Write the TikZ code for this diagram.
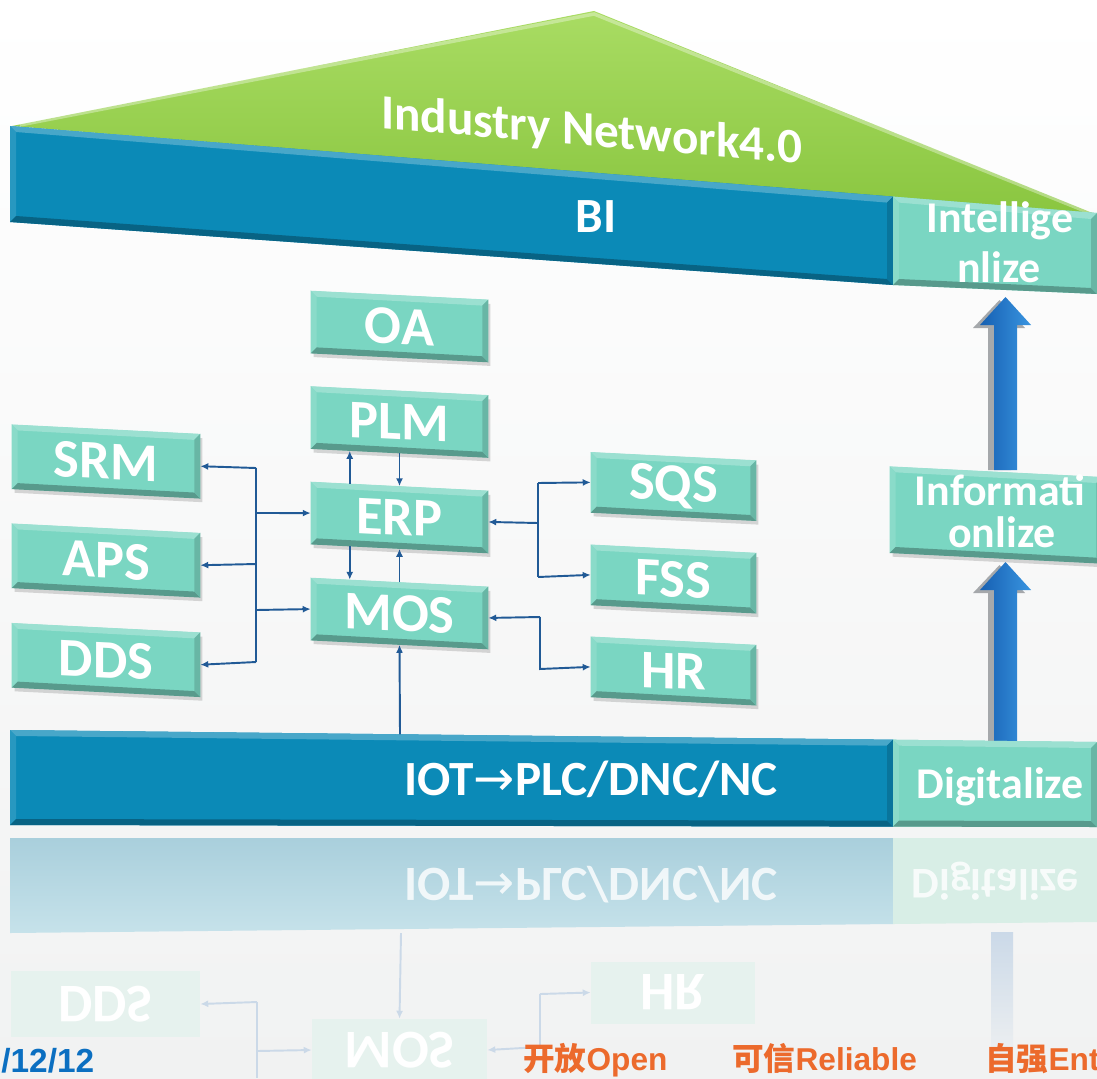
\documentclass[tikz,border=0pt]{standalone}
\usepackage{fontspec}
\setmainfont{Carlito}
\newfontfamily\lib{Liberation Sans}
\newfontfamily\cjk{Noto Sans CJK SC}
\newfontfamily\dejavu{DejaVu Sans}
\usetikzlibrary{arrows.meta,calc,shadows}
\definecolor{bgc}{HTML}{F1F2F2}
\definecolor{roofl}{HTML}{A9DC63}
\definecolor{roofd}{HTML}{8AC640}
\definecolor{barc}{HTML}{0B8AB7}
\definecolor{boxc}{HTML}{7AD6C2}
\definecolor{connc}{HTML}{215A96}
\definecolor{arrd}{HTML}{1660B2}
\definecolor{arrl}{HTML}{3994E0}
\definecolor{arrgray}{HTML}{A5A8AB}
\definecolor{reflA}{HTML}{A9CFDC}
\definecolor{reflB}{HTML}{C6E2EA}
\definecolor{reflG}{HTML}{D8EEE6}
\definecolor{rboxc}{HTML}{E6F2EE}
\definecolor{rline}{HTML}{CBD9E8}
\definecolor{dateblue}{HTML}{0B6FC1}
\definecolor{orangeT}{HTML}{EC6A2C}
% bevel: #1 colour, #2 size, #3 top-left, #4 top-right, #5 bottom-right, #6 bottom-left
\newcommand\bev[6]{%
 \fill[#1!75!white] (#3)--(#4)--($(#4)+(-#2,#2)$)--($(#3)+(#2,#2)$)--cycle;
 \fill[#1!88!white] (#3)--($(#3)+(#2,#2)$)--($(#6)+(#2,-#2)$)--(#6)--cycle;
 \fill[#1!72!black] (#6)--($(#6)+(#2,-#2)$)--($(#5)+(-#2,-#2)$)--(#5)--cycle;
 \fill[#1!85!black] (#4)--(#5)--($(#5)+(-#2,-#2)$)--($(#4)+(-#2,#2)$)--cycle;
}
\newcommand\nbev[2]{\bev{#2}{6}{#1.north west}{#1.north east}{#1.south east}{#1.south west}}
\newcommand\blockarrow[3]{%
 \fill[arrgray] (999.5,#1+3) -- (973,#2+3) -- (988,#2+3) -- (988,#3) -- (1011,#3) -- (1011,#2+3) -- (1025,#2+3) -- cycle;
 \shade[left color=arrd, right color=arrl] (1005.5,#1) -- (1031,#2) -- (1017,#2) -- (1017,#3) -- (994,#3) -- (994,#2) -- (980,#2) -- cycle;
}
\tikzset{
 box/.style={rectangle, fill=boxc, inner sep=0pt, yslant=-0.05, text=white,
   font=\bfseries\fontsize{31}{33}\selectfont,
   drop shadow={shadow xshift=0.05cm, shadow yshift=-0.08cm, opacity=0.3}},
 midbox/.style={box, minimum width=3.54cm, minimum height=1.24cm},
 leftbox/.style={box, minimum width=3.76cm, minimum height=1.28cm},
 rightbox/.style={box, minimum width=3.3cm, minimum height=1.2cm},
 rbox/.style={rectangle, fill=rboxc, inner sep=0pt, yscale=-1, text=white,
   font=\bfseries\fontsize{31}{33}\selectfont},
 conn/.style={draw=connc, line width=1.1pt, -{Latex[length=4.5pt,width=4pt]}},
 bus/.style={draw=connc, line width=1.1pt},
 rconn/.style={draw=rline, line width=1.1pt, -{Latex[length=4.5pt,width=4pt]}},
 rbus/.style={draw=rline, line width=1.1pt},
 bartext/.style={text=white, inner sep=0pt, font=\bfseries\fontsize{28}{30}\selectfont},
 sidetext/.style={text=white, inner sep=0pt, font=\bfseries\fontsize{25}{27}\selectfont},
 foot/.style={anchor=base west, inner sep=0pt, text=orangeT, font=\bfseries\fontsize{18}{20}\selectfont},
}
\begin{document}
\begin{tikzpicture}[x=0.02cm, y=-0.02cm]
\useasboundingbox (0,0) rectangle (1097,1078);
\clip (0,0) rectangle (1097,1078);
\shade[top color=white, bottom color=bgc] (0,0) rectangle (1097,1078);

% ---------- reflection ----------
\shade[top color=reflA, bottom color=reflB] (10,838) -- (893,838) -- (893,924) -- (10,933) -- cycle;
\fill[reflG] (893,838) -- (1097,838) -- (1097,922) -- (893,924) -- cycle;
\node[bartext, yscale=-1, anchor=base, text opacity=0.8] (riot) at (591,868) {IOT{\dejavu\mdseries →}PLC/DNC/NC};
\node[sidetext, yscale=-1, anchor=base, text opacity=0.8] (rdig) at (995,869) {Digitalize};
\shade[top color=rline, bottom color=bgc] (991,932) rectangle (1013,1070);
\node[rbox, minimum width=3.78cm, minimum height=1.32cm] (rDDS) at (105.5,1004) {DDS};
\node[rbox, minimum width=3.5cm, minimum height=1.24cm] (rMOS) at (399.5,1050) {MOS};
\node[rbox, minimum width=3.28cm, minimum height=1.24cm] (rHR) at (673,992.5) {HR};
\coordinate (riotB) at (401,933);
\coordinate (rl1) at (257,1002);
\coordinate (rl2) at (257,1051);
\coordinate (rl3) at (257,1078);
\coordinate (rr1) at (540,994);
\coordinate (rr2) at (540,1047);
\draw[rconn] (riotB) -- (rMOS.south);
\draw[rbus] (rl1) -- (rl3);
\draw[rconn] (rl1) -- (rDDS.east);
\draw[rconn] (rl2) -- (rMOS.west);
\draw[rbus] (rr1) -- (rr2);
\draw[rconn] (rr1) -- (rHR.west);
\draw[rconn] (rr2) -- (rMOS.east);

% ---------- roof ----------
\shade[top color=roofl, bottom color=roofd] (12,126) -- (594,11) -- (1095,214) -- cycle;
\draw[white, opacity=0.35, line width=2pt] (20,125) -- (594,14) -- (1090,213);
\node[bartext, yslant=-0.084, anchor=base] (roof) at (592,146) {Industry Network4.0};

% ---------- BI bar ----------
\fill[barc] (10,126) -- (893,196.6) -- (893,285) -- (10,222) -- cycle;
\bev{barc}{6}{10,126}{893,196.6}{893,285}{10,222}
\fill[boxc] (893,196.6) -- (1097,213) -- (1097,294) -- (893,285) -- cycle;
\bev{boxc}{6}{893,196.6}{1097,213}{1097,294}{893,285}
\node[bartext, anchor=base] (BI) at (596,232) {BI};
\node[sidetext, anchor=base] (intel1) at (1000,232) {Intellige};
\node[sidetext, anchor=base] (intel2) at (999,282) {nlize};

% ---------- block arrows ----------
\blockarrow{297}{325}{470}
\blockarrow{562}{590}{745}

% ---------- IOT bar ----------
\fill[barc] (10,730) -- (893,739.7) -- (893,826.6) -- (10,825) -- cycle;
\bev{barc}{6}{10,730}{893,739.7}{893,826.6}{10,825}
\fill[boxc] (893,739.7) -- (1097,742) -- (1097,827) -- (893,826.6) -- cycle;
\bev{boxc}{6}{893,739.7}{1097,742}{1097,827}{893,826.6}
\node[bartext, anchor=base] (iot) at (591,795) {IOT{\dejavu\mdseries →}PLC/DNC/NC};
\node[sidetext, anchor=base] (dig) at (1000,798) {Digitalize};

% ---------- boxes ----------
\node[midbox] (OA) at (399.5,326.5) {OA}; \nbev{OA}{boxc}
\node[midbox] (PLM) at (399.5,422) {PLM}; \nbev{PLM}{boxc}
\node[midbox] (ERP) at (399.5,517.5) {ERP}; \nbev{ERP}{boxc}
\node[midbox] (MOS) at (399.5,613.5) {MOS}; \nbev{MOS}{boxc}
\node[leftbox] (SRM) at (106,461.5) {SRM}; \nbev{SRM}{boxc}
\node[leftbox] (APS) at (106,560.5) {APS}; \nbev{APS}{boxc}
\node[leftbox] (DDS) at (106,660) {DDS}; \nbev{DDS}{boxc}
\node[rightbox] (SQS) at (673.5,486.5) {SQS}; \nbev{SQS}{boxc}
\node[rightbox] (FSS) at (673.5,579) {FSS}; \nbev{FSS}{boxc}
\node[rightbox] (HR) at (673.5,671) {HR}; \nbev{HR}{boxc}
\node[box, minimum width=4.24cm, minimum height=1.72cm] (Info) at (996,515) {}; \nbev{Info}{boxc}
\node[sidetext, anchor=base] (info1) at (1000,505) {Informati};
\node[sidetext, anchor=base] (info2) at (1002,547) {onlize};

% ---------- connectors ----------
\coordinate (lb1) at (256,468);
\coordinate (lb2) at (256,513);
\coordinate (lb3) at (256,564);
\coordinate (lb4) at (256,610);
\coordinate (lb5) at (256,662);
\draw[bus] (lb1) -- (lb5);
\draw[conn] (lb1) -- (SRM.east);
\draw[conn] (lb3) -- (APS.east);
\draw[conn] (lb5) -- (DDS.east);
\draw[conn] (lb2) -- (ERP.west);
\draw[conn] (lb4) -- (MOS.west);

\coordinate (rb1) at (538,483);
\coordinate (rb2) at (538,523);
\coordinate (rb3) at (538,577);
\draw[bus] (rb1) -- (rb3);
\draw[conn] (rb2) -- (ERP.east);
\draw[conn] (rb1) -- (SQS.west);
\draw[conn] (rb3) -- (FSS.west);

\coordinate (hb1) at (540,617);
\coordinate (hb2) at (540,669);
\draw[conn] (hb1) -- (MOS.east);
\draw[conn] (hb1) -- (hb2) -- (HR.west);

\draw[conn] ($(ERP.north west)!0.22!(ERP.north east)$) -- ($(PLM.south west)!0.22!(PLM.south east)$);
\draw[conn] (PLM.south) -- (ERP.north);
\draw[conn] ($(ERP.south west)!0.22!(ERP.south east)$) -- ($(MOS.north west)!0.22!(MOS.north east)$);
\draw[conn] (MOS.north) -- (ERP.south);
\coordinate (iotTop) at (400,734.4);
\draw[conn] (iotTop) -- (MOS.south);

% ---------- footer ----------
\node[anchor=base west, inner sep=0pt, text=dateblue, font=\lib\bfseries\fontsize{19}{21}\selectfont] (date) at (1,1072) {/12/12};
\node[foot] (open) at (523,1070) {{\cjk 开放}{\lib Open}};
\node[foot] (reliable) at (732,1070) {{\cjk 可信}{\lib Reliable}};
\node[foot] (ent) at (985,1070) {{\cjk 自强}{\lib Ent}};
\end{tikzpicture}
\end{document}
